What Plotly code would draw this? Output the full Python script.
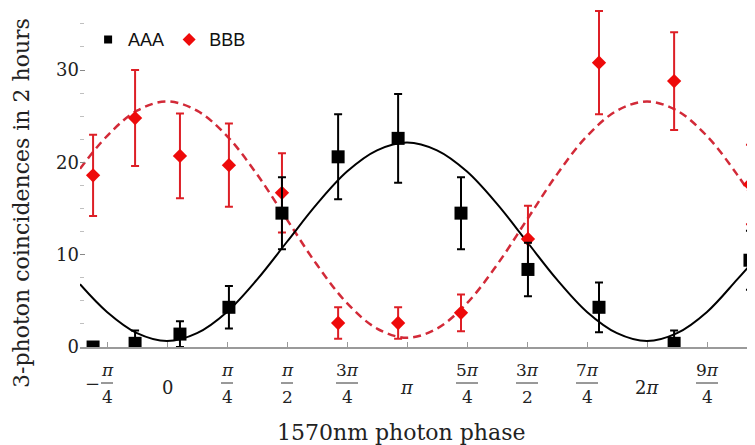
import plotly.graph_objects as go

# ---------------- data (phase in units of pi) ----------------
phase_pts = [-0.308, -0.133, 0.054, 0.258, 0.479, 0.713, 0.963, 1.225, 1.504, 1.800, 2.113, 2.429]
aaa_counts = [0.0, 0.4, 1.4, 4.3, 14.5, 20.6, 22.6, 14.5, 8.4, 4.3, 0.4, 9.4]
aaa_err = [0.0, 1.4, 1.4, 2.3, 3.9, 4.6, 4.8, 3.9, 2.9, 2.7, 1.4, 3.2]
bbb_counts = [18.6, 24.8, 20.7, 19.7, 16.7, 2.6, 2.6, 3.7, 11.7, 30.8, 28.8, 17.6]
bbb_err = [4.4, 5.2, 4.6, 4.5, 4.3, 1.7, 1.7, 2.0, 3.6, 5.6, 5.3, 4.3]

# fitted curves
phase_fit = [-0.3625, -0.25, -0.125, 0, 0.125, 0.25, 0.375, 0.5, 0.625, 0.75, 0.875, 1.0,
             1.125, 1.25, 1.375, 1.5, 1.625, 1.75, 1.875, 2.0, 2.125, 2.25, 2.375, 2.45]
aaa_fit = [6.8, 3.8, 1.5, 0.65, 1.5, 3.8, 7.3, 11.4, 15.5, 19.0, 21.3, 22.15,
           21.3, 19.0, 15.5, 11.4, 7.3, 3.8, 1.5, 0.65, 1.5, 3.8, 7.3, 9.5]
bbb_fit = [19.3, 22.85, 25.6, 26.6, 25.6, 22.85, 18.7, 13.8, 8.9, 4.75, 2.0, 1.0,
           2.0, 4.75, 8.9, 13.8, 18.7, 22.85, 25.6, 26.6, 25.6, 22.85, 18.7, 15.8]

# x tick labels
tick_vals = [-0.25, 0, 0.25, 0.5, 0.75, 1, 1.25, 1.5, 1.75, 2, 2.25]
tick_sign = ["−", "", "", "", "", "", "", "", "", "", ""]
tick_num = ["<i>π</i>", "", "<i>π</i>", "<i>π</i>", "3<i>π</i>", "", "5<i>π</i>",
            "3<i>π</i>", "7<i>π</i>", "", "9<i>π</i>"]
tick_num_len = [1, 0, 1, 1, 2, 0, 2, 2, 2, 0, 2]
tick_den = ["4", "", "4", "2", "4", "", "4", "2", "4", "", "4"]
tick_whole = ["", "0", "", "", "", "<i>π</i>", "", "", "", "2<i>π</i>", ""]

y_ticks = [0, 10, 20, 30]
y_labels = ["0", "10", "20", "30"]

x_title = "1570nm photon phase"
y_title = "3-photon coincidences in 2 hours"

BLACK = "#000000"
RED = "#ee0a0a"
RED_ERR = "#dd1f26"
RED_FIT = "#d22a38"
SERIF = "DejaVu Serif"
SANS = "Liberation Sans"

fig = go.Figure()

fig.add_trace(go.Scatter(x=phase_fit, y=bbb_fit, mode="lines", line_shape="spline",
                         line=dict(color=RED_FIT, width=2.5, dash="8px,5px"),
                         showlegend=False, hoverinfo="skip"))
fig.add_trace(go.Scatter(x=phase_fit, y=aaa_fit, mode="lines", line_shape="spline",
                         line=dict(color=BLACK, width=2),
                         showlegend=False, hoverinfo="skip"))

fig.add_trace(go.Scatter(x=phase_pts, y=bbb_counts, mode="markers", name="BBB",
                         marker=dict(symbol="diamond", size=11, color=RED),
                         error_y=dict(type="data", array=bbb_err, visible=True,
                                      color=RED_ERR, thickness=2, width=4),
                         showlegend=False))
fig.add_trace(go.Scatter(x=phase_pts, y=aaa_counts, mode="markers", name="AAA",
                         marker=dict(symbol="square", size=13, color=BLACK),
                         error_y=dict(type="data", array=aaa_err, visible=True,
                                      color=BLACK, thickness=2, width=4),
                         showlegend=False))

# legend entries
fig.add_trace(go.Scatter(x=[None], y=[None], mode="markers", name="AAA",
                         marker=dict(symbol="square", size=8, color=BLACK)))
fig.add_trace(go.Scatter(x=[None], y=[None], mode="markers", name="BBB",
                         marker=dict(symbol="diamond", size=10, color=RED)))

annotations = []
shapes = []
lab_font = dict(family=SERIF, size=18, color="#222222")
frac_font = dict(family=SERIF, size=17, color="#222222")
for v, s, n, nl, d, w in zip(tick_vals, tick_sign, tick_num, tick_num_len, tick_den, tick_whole):
    if w:
        annotations.append(dict(x=v, y=0, xref="x", yref="paper", text=w, showarrow=False,
                                xanchor="center", yanchor="middle", yshift=-40, font=lab_font))
    if n:
        annotations.append(dict(x=v, y=0, xref="x", yref="paper", text=n, showarrow=False,
                                xanchor="center", yanchor="middle", yshift=-23, font=frac_font))
        annotations.append(dict(x=v, y=0, xref="x", yref="paper", text=d, showarrow=False,
                                xanchor="center", yanchor="middle", yshift=-50, font=frac_font))
        half = 6 + 5 * (nl - 1)
        shapes.append(dict(type="line", xref="x", yref="paper", xsizemode="pixel",
                           ysizemode="pixel", xanchor=v, yanchor=0,
                           x0=-half, x1=half, y0=-36, y1=-36,
                           line=dict(color="#333333", width=1)))
    if s:
        annotations.append(dict(x=v, y=0, xref="x", yref="paper", text=s, showarrow=False,
                                xanchor="center", yanchor="middle", yshift=-36, xshift=-15,
                                font=lab_font))

annotations.append(dict(x=0.4756, y=0, xref="paper", yref="paper", text=x_title,
                        showarrow=False, xanchor="center", yanchor="middle", yshift=-85,
                        font=dict(family=SERIF, size=22, color="#222222")))
annotations.append(dict(x=0, y=0.425, xref="paper", yref="paper", text=y_title,
                        showarrow=False, xanchor="center", yanchor="middle", xshift=-58,
                        textangle=-90, font=dict(family=SERIF, size=22, color="#222222")))

# page body adds an 8px offset; the figure is sized to fill the rest of the window
fig.update_layout(
    width=747, height=437,
    margin=dict(l=72, r=0, t=0, b=98),
    paper_bgcolor="white", plot_bgcolor="white",
    annotations=annotations, shapes=shapes,
    legend=dict(orientation="h", x=0.012, y=0.961, xanchor="left", yanchor="top",
                font=dict(family=SANS, size=18, color="#111111"),
                bgcolor="rgba(0,0,0,0)", itemwidth=30),
    xaxis=dict(range=[-0.3625, 2.45], showgrid=False, zeroline=False,
               showline=True, linecolor="#9a9a9a", linewidth=2,
               ticks="inside", ticklen=5, tickcolor="#9a9a9a", tickwidth=1,
               tickvals=tick_vals, showticklabels=False),
    yaxis=dict(range=[0, 36.72], showgrid=False, zeroline=False, showline=False,
               ticks="inside", ticklen=5, tickcolor="#888888", tickwidth=1,
               tickvals=y_ticks, ticktext=y_labels, ticklabelstandoff=0,
               tickfont=dict(family=SERIF, size=18, color="#222222"),
               minor=dict(dtick=2.5, ticks="inside", ticklen=4, tickcolor="#c0c0c0",
                          showgrid=False)),
)

fig.write_html("out.html")
